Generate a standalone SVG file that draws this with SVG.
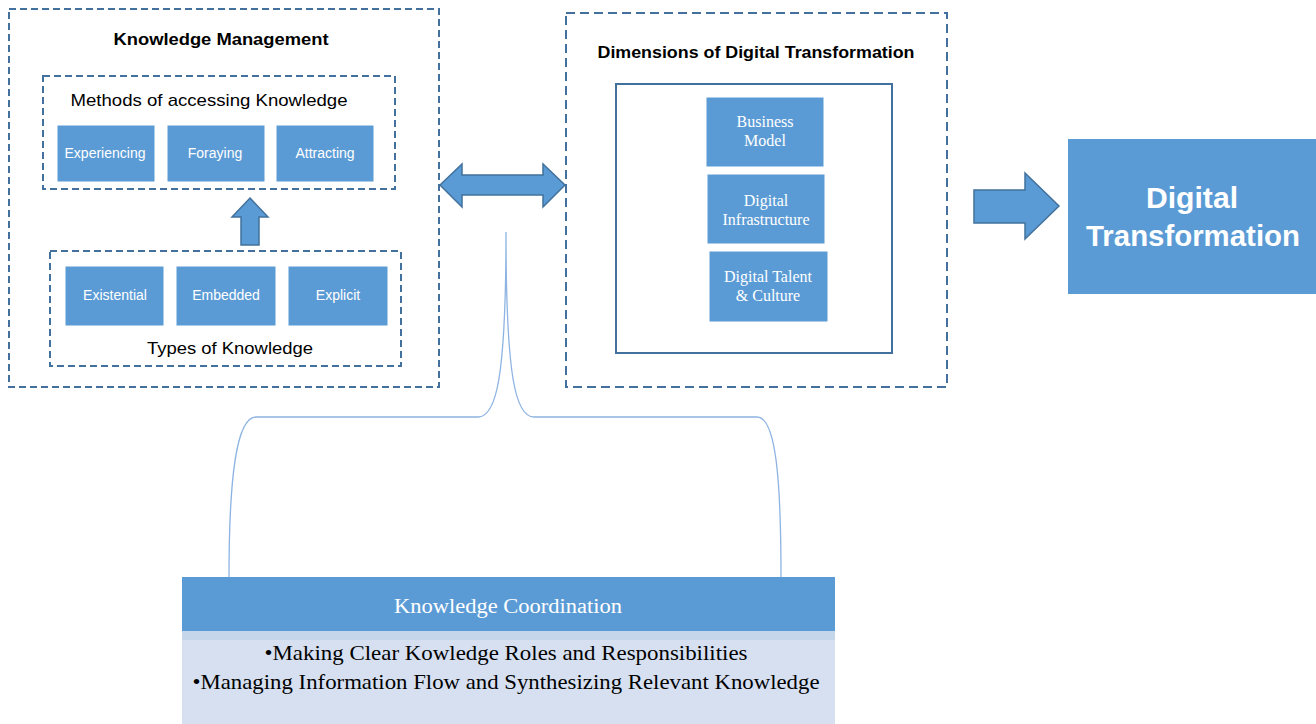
<svg xmlns="http://www.w3.org/2000/svg" width="1316" height="724" viewBox="0 0 1316 724">
  <style>
    .dash { fill: none; stroke: #41719C; stroke-width: 2; stroke-dasharray: 7 4; }
    .dash-wide { fill: none; stroke: #41719C; stroke-width: 2; stroke-dasharray: 9 5; }
    .box { fill: #5B9BD5; stroke: #FFFFFF; stroke-width: 1; }
    .arrow { fill: #5B9BD5; stroke: #41719C; stroke-width: 1.5; stroke-linejoin: miter; }
    .title { font-family: "Liberation Sans", Arial, sans-serif; font-weight: bold; font-size: 17px; fill: #000; text-anchor: middle; }
    .sub { font-family: "Liberation Sans", Arial, sans-serif; font-size: 17px; fill: #000; text-anchor: middle; }
    .lbl { font-family: "Liberation Sans", Arial, sans-serif; font-size: 14px; fill: #FFFFFF; text-anchor: middle; }
    .serif { font-family: "Liberation Serif", "Times New Roman", serif; font-size: 16px; fill: #FFFFFF; text-anchor: middle; }
    .body { font-family: "Liberation Serif", "Times New Roman", serif; font-size: 21px; fill: #000; text-anchor: middle; }
    .brace { fill: none; stroke: #8DB4E2; stroke-width: 1.3; }
  </style>
  <rect width="1316" height="724" fill="#FFFFFF"/>

  <!-- Knowledge Management panel -->
  <g id="knowledge-management">
    <rect class="dash" x="9" y="9" width="430" height="378"/>
    <text class="title" x="221" y="45" textLength="215" lengthAdjust="spacingAndGlyphs">Knowledge Management</text>
  </g>

  <g id="methods">
    <rect class="dash" x="43" y="76" width="352" height="113"/>
    <text class="sub" x="209" y="106" textLength="277" lengthAdjust="spacingAndGlyphs">Methods of accessing Knowledge</text>
    <g id="experiencing"><rect class="box" x="57" y="125" width="98" height="57"/><text class="lbl" x="105" y="158">Experiencing</text></g>
    <g id="foraying"><rect class="box" x="167" y="125" width="98" height="57"/><text class="lbl" x="215" y="158">Foraying</text></g>
    <g id="attracting"><rect class="box" x="276" y="125" width="98" height="57"/><text class="lbl" x="325" y="158">Attracting</text></g>
  </g>

  <g id="types">
    <rect class="dash" x="50" y="251" width="351" height="115"/>
    <g id="existential"><rect class="box" x="65" y="266" width="99" height="60"/><text class="lbl" x="115" y="300">Existential</text></g>
    <g id="embedded"><rect class="box" x="176" y="266" width="100" height="60"/><text class="lbl" x="226" y="300">Embedded</text></g>
    <g id="explicit"><rect class="box" x="288" y="266" width="100" height="60"/><text class="lbl" x="338" y="300">Explicit</text></g>
    <text class="sub" x="230" y="354" textLength="166" lengthAdjust="spacingAndGlyphs">Types of Knowledge</text>
  </g>

  <!-- Dimensions of Digital Transformation panel -->
  <g id="dimensions">
    <rect class="dash-wide" x="566" y="13" width="381" height="374"/>
    <text class="title" x="756" y="58" textLength="317" lengthAdjust="spacingAndGlyphs">Dimensions of Digital Transformation</text>
    <rect x="616" y="84" width="276" height="269" fill="none" stroke="#41719C" stroke-width="2"/>
    <g id="business-model"><rect class="box" x="706" y="97" width="118" height="70"/><text class="serif" x="765" y="127">Business</text><text class="serif" x="765" y="146">Model</text></g>
    <g id="digital-infrastructure"><rect class="box" x="707" y="174" width="118" height="70"/><text class="serif" x="766" y="206">Digital</text><text class="serif" x="766" y="225">Infrastructure</text></g>
    <g id="digital-talent"><rect class="box" x="709" y="251" width="119" height="71"/><text class="serif" x="768" y="282">Digital  Talent</text><text class="serif" x="768" y="301">&amp; Culture</text></g>
  </g>

  <!-- Outcome -->
  <g id="digital-transformation">
    <rect x="1068" y="139" width="248" height="155" fill="#5B9BD5"/>
    <text x="1192" y="208" font-family="Liberation Sans, Arial, sans-serif" font-weight="bold" font-size="30" fill="#FFFFFF" text-anchor="middle" textLength="92" lengthAdjust="spacingAndGlyphs">Digital</text>
    <text x="1193" y="246" font-family="Liberation Sans, Arial, sans-serif" font-weight="bold" font-size="30" fill="#FFFFFF" text-anchor="middle" textLength="214" lengthAdjust="spacingAndGlyphs">Transformation</text>
  </g>

  <!-- Knowledge Coordination -->
  <g id="knowledge-coordination">
    <rect x="182" y="577" width="653" height="147" fill="#D6E0F1"/>
    <rect x="182" y="631" width="653" height="9" fill="#C5D5EA"/>
    <rect x="182" y="577" width="653" height="54" fill="#5B9BD5"/>
    <text x="508" y="613" font-family="Liberation Serif, Times New Roman, serif" font-size="20" fill="#FFFFFF" text-anchor="middle" textLength="228" lengthAdjust="spacingAndGlyphs">Knowledge Coordination</text>
    <text class="body" x="506" y="660" textLength="483" lengthAdjust="spacingAndGlyphs">•Making Clear Kowledge Roles and Responsibilities</text>
    <text class="body" x="506" y="689" textLength="627" lengthAdjust="spacingAndGlyphs">•Managing Information Flow and Synthesizing Relevant Knowledge</text>
  </g>

  <!-- Connectors -->
  <g id="connectors">
    <polygon class="arrow" points="250,198 268,217 259,217 259,245 241,245 241,217 232,217"/>
    <polygon class="arrow" points="440,185 462,164 462,175 543,175 543,164 565,185 543,207 543,195 462,195 462,207"/>
    <polygon class="arrow" points="974,190 1025,190 1025,173 1059,206 1025,239 1025,223 974,223"/>
    <path class="brace" d="M229,577 C229,480 236,417 256,417 L478,417 C496,417 506,380 506,232 C506,380 516,417 534,417 L757,417 C776,417 781,480 781,577"/>
  </g>
</svg>
